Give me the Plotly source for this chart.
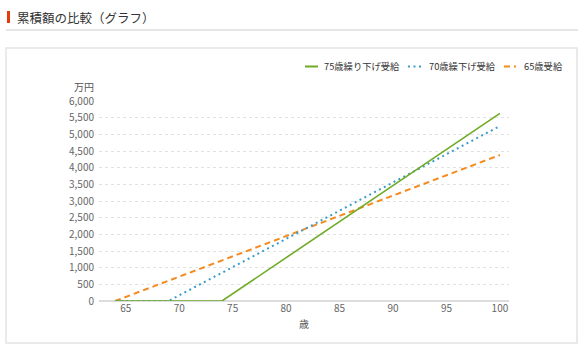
import plotly.graph_objects as go

# Data (万円, cumulative amount by age)
age_75 = [64, 74, 100]
val_75 = [0, 0, 5630]
age_70 = [64, 69, 100]
val_70 = [0, 0, 5250]
age_65 = [64, 100]
val_65 = [0, 4380]

names = ["75歳繰り下げ受給", "70歳繰下げ受給", "65歳受給"]
colors = ["#6fab27", "#3b9dcc", "#f58a1f"]
dashes = ["solid", "2px,3.5px", "6px,4px"]

x_ticks = [65, 70, 75, 80, 85, 90, 95, 100]
y_ticks = [0, 500, 1000, 1500, 2000, 2500, 3000, 3500, 4000, 4500, 5000, 5500, 6000]

W, H = 586, 354
L, R, T, B = 99, 509, 101, 301  # plot area in pixels


def px(x):
    return (x - L) / (R - L)


def py(y):
    return (B - y) / (B - T)


FONT = "Noto Sans CJK JP, Noto Sans, sans-serif"

fig = go.Figure()
series = [(age_65, val_65), (age_70, val_70), (age_75, val_75)]
order = [2, 1, 0]
for i, (xs, ys) in zip(order, series):
    fig.add_trace(go.Scatter(
        x=xs, y=ys, mode="lines", name=names[i],
        line=dict(color=colors[i], width=1.6 if i == 0 else 2, dash=dashes[i]),
        showlegend=False, hoverinfo="skip",
    ))

shapes = []
annotations = []

# Card border
shapes.append(dict(type="rect", xref="paper", yref="paper",
                   x0=px(6), x1=px(577), y0=py(343), y1=py(48),
                   line=dict(color="#e3e3e3", width=1.5), fillcolor="rgba(0,0,0,0)", layer="below"))
# Title underline
shapes.append(dict(type="line", xref="paper", yref="paper",
                   x0=px(6), x1=px(578), y0=py(30), y1=py(30),
                   line=dict(color="#e5e5e5", width=2)))
# Title red bar
shapes.append(dict(type="rect", xref="paper", yref="paper",
                   x0=px(7), x1=px(10), y0=py(23), y1=py(11),
                   line=dict(width=0), fillcolor="#e8380d"))
annotations.append(dict(xref="paper", yref="paper", x=px(15), y=py(17),
                        text="累積額の比較（グラフ）", showarrow=False,
                        xanchor="left", yanchor="middle",
                        font=dict(family=FONT, size=12.5, color="#333333")))

# Manual legend
leg_items = [(305, 318, 322), (408, 421, 427), (504, 516, 522)]
for i, (a, b, t) in enumerate(leg_items):
    shapes.append(dict(type="line", xref="paper", yref="paper",
                       x0=px(a), x1=px(b), y0=py(66.5), y1=py(66.5),
                       line=dict(color=colors[i], width=2, dash=dashes[i] if i else "solid")))
    annotations.append(dict(xref="paper", yref="paper", x=px(t), y=py(66.5),
                            text=names[i], showarrow=False, xanchor="left", yanchor="middle",
                            font=dict(family=FONT, size=9.3, color="#333333")))

# Unit label
annotations.append(dict(xref="paper", yref="paper", x=px(96), y=py(86),
                        text="万円", showarrow=False, xanchor="right", yanchor="middle",
                        font=dict(family=FONT, size=10, color="#555555")))

fig.update_layout(
    width=W, height=H,
    margin=dict(l=L, r=W - R, t=T, b=H - B),
    paper_bgcolor="white", plot_bgcolor="white",
    font=dict(family=FONT, size=10, color="#666666"),
    shapes=shapes, annotations=annotations,
    xaxis=dict(range=[62.5, 100.85], tickvals=x_ticks, showgrid=False,
               showline=False, zeroline=False, ticks="",
               tickfont=dict(size=10, color="#666666"),
               title=dict(text="歳", font=dict(size=10, color="#555555"), standoff=6)),
    yaxis=dict(range=[0, 6000], tickvals=y_ticks, tickformat=",",
               showgrid=True, gridcolor="#e2e2e2", griddash="3px,3px", gridwidth=1,
               zeroline=True, zerolinecolor="#dcdcdc", zerolinewidth=1.5,
               showline=False, ticks="", ticklabelstandoff=4,
               tickfont=dict(size=10, color="#666666")),
)

fig.write_html("out.html")
